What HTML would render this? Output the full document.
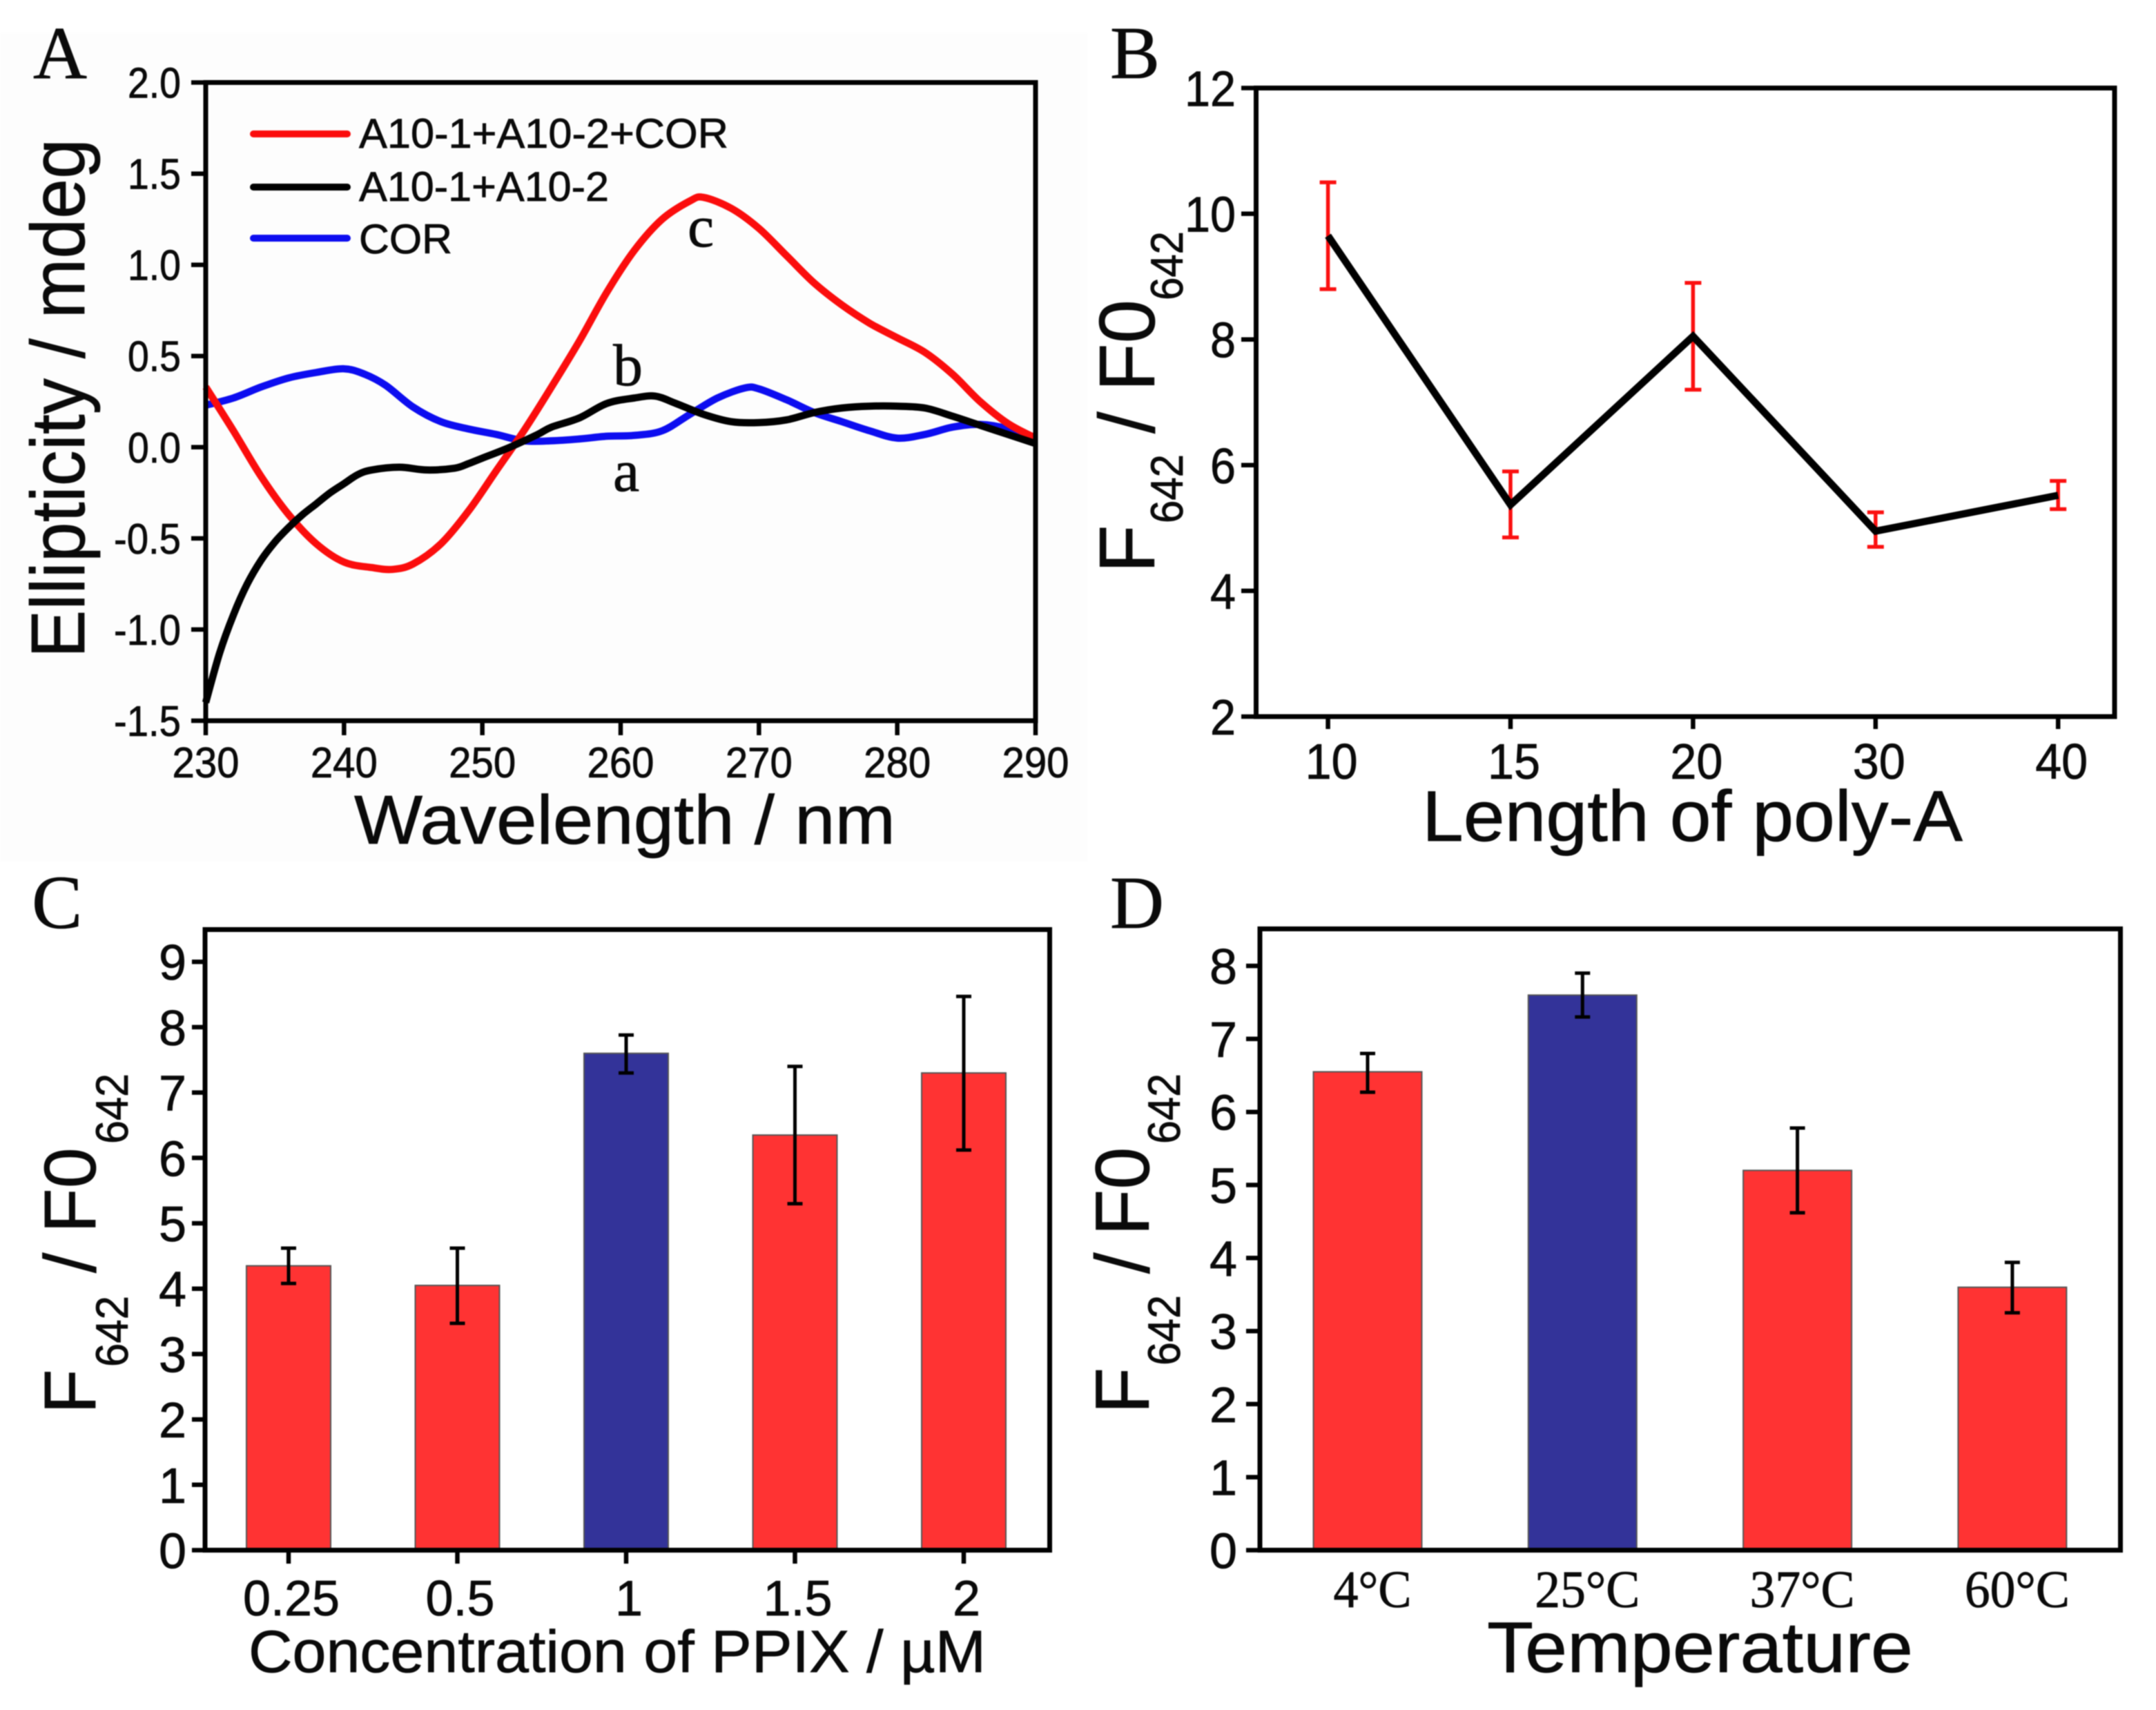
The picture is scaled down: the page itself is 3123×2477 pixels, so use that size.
<!DOCTYPE html>
<html lang="en">
<head>
<meta charset="utf-8">
<title>Four panel chart</title>
<style>
html,body{margin:0;padding:0;background:#fff;width:3123px;height:2477px;overflow:hidden}
svg{display:block;filter:blur(0.8px)}
text{font-family:"Liberation Sans",Arial,sans-serif;fill:#0a0a0a;stroke:#0a0a0a;stroke-width:0.8px}
.serif{font-family:"Liberation Serif","Times New Roman",serif}
</style>
</head>
<body>
<svg id="figure" xmlns="http://www.w3.org/2000/svg" width="3123" height="2477" viewBox="0 0 3123 2477">
  <rect x="0" y="0" width="3123" height="2477" fill="#ffffff"/>
  <rect x="0" y="48" width="1575" height="1200" fill="#fdfdfd"/>

  <g id="panelA">
    <text class="serif" x="48" y="113" font-size="108">A</text>
    <text transform="translate(122,953) rotate(-90)" font-size="110" textLength="752" lengthAdjust="spacingAndGlyphs">Ellipticity / mdeg</text>
    <text x="513" y="1222" font-size="100" textLength="784" lengthAdjust="spacingAndGlyphs">Wavelength / nm</text>
    <line x1="367" y1="194" x2="503" y2="194" stroke="#fb0d0d" stroke-width="10" stroke-linecap="round"/>
    <text x="520" y="214" font-size="60" textLength="535" lengthAdjust="spacingAndGlyphs">A10-1+A10-2+COR</text>
    <line x1="367" y1="271" x2="503" y2="271" stroke="#000" stroke-width="10" stroke-linecap="round"/>
    <text x="520" y="291" font-size="60" textLength="362" lengthAdjust="spacingAndGlyphs">A10-1+A10-2</text>
    <line x1="367" y1="345" x2="503" y2="345" stroke="#0d0df0" stroke-width="10" stroke-linecap="round"/>
    <text x="520" y="367" font-size="60" textLength="135" lengthAdjust="spacingAndGlyphs">COR</text>
    <text class="serif" x="996" y="357" font-size="86">c</text>
    <text class="serif" x="888" y="558" font-size="86">b</text>
    <text class="serif" x="888" y="711" font-size="86">a</text>
  </g>

  <g id="panelB">
    <text class="serif" x="1608" y="113" font-size="108">B</text>
    <g>
      <text transform="translate(1672,830) rotate(-90)" font-size="114">F</text>
      <text transform="translate(1713,758) rotate(-90)" font-size="66" textLength="100" lengthAdjust="spacingAndGlyphs">642</text>
      <text transform="translate(1672,628) rotate(-90)" font-size="114">/</text>
      <text transform="translate(1672,567) rotate(-90)" font-size="114">F0</text>
      <text transform="translate(1713,435) rotate(-90)" font-size="66" textLength="100" lengthAdjust="spacingAndGlyphs">642</text>
    </g>
    <text x="2060" y="1218" font-size="104" textLength="783" lengthAdjust="spacingAndGlyphs">Length of poly-A</text>
  </g>

  <g id="panelC">
    <text class="serif" x="46" y="1344" font-size="110">C</text>
    <g>
      <text transform="translate(138,2048) rotate(-90)" font-size="106">F</text>
      <text transform="translate(185,1980) rotate(-90)" font-size="66" textLength="103" lengthAdjust="spacingAndGlyphs">642</text>
      <text transform="translate(138,1844) rotate(-90)" font-size="106">/</text>
      <text transform="translate(138,1786) rotate(-90)" font-size="106">F0</text>
      <text transform="translate(185,1657) rotate(-90)" font-size="66" textLength="102" lengthAdjust="spacingAndGlyphs">642</text>
    </g>
    <text x="360" y="2422" font-size="86" textLength="1068" lengthAdjust="spacingAndGlyphs">Concentration of PPIX / µM</text>
  </g>

  <g id="panelD">
    <text class="serif" x="1608" y="1344" font-size="108">D</text>
    <g>
      <text transform="translate(1664,2048) rotate(-90)" font-size="110">F</text>
      <text transform="translate(1709,1978) rotate(-90)" font-size="66" textLength="102" lengthAdjust="spacingAndGlyphs">642</text>
      <text transform="translate(1664,1845) rotate(-90)" font-size="110">/</text>
      <text transform="translate(1664,1790) rotate(-90)" font-size="110">F0</text>
      <text transform="translate(1709,1657) rotate(-90)" font-size="66" textLength="102" lengthAdjust="spacingAndGlyphs">642</text>
    </g>
    <text x="2154" y="2422" font-size="104" textLength="617" lengthAdjust="spacingAndGlyphs">Temperature</text>
  </g>
</svg>
<script>
/* Panel A data */
const aXTicks = [230, 240, 250, 260, 270, 280, 290];
const aYTicks = ["-1.5", "-1.0", "-0.5", "0.0", "0.5", "1.0", "1.5", "2.0"];
const redNm = [230,232,234,236,238,240,242,243.5,245,247,249,251,253,255,257,259,261,263,265,266,268,270,272,274,276,278,280,282,284,286,288,290];
const redVal = [0.33,0.09,-0.16,-0.37,-0.53,-0.63,-0.66,-0.67,-0.64,-0.53,-0.35,-0.13,0.09,0.33,0.58,0.85,1.08,1.25,1.35,1.37,1.31,1.2,1.05,0.9,0.78,0.68,0.6,0.52,0.4,0.25,0.13,0.05];
const blackNm = [230,231,232,233,234,235,236,237,238,239,240,241,242,244,246,248,249,250,252,254,255,257,259,261,262.5,264,266,268,270,272,274,276,278,280,282,284,286,288,290];
const blackVal = [-1.4,-1.13,-0.92,-0.75,-0.62,-0.52,-0.44,-0.37,-0.31,-0.25,-0.2,-0.15,-0.125,-0.11,-0.125,-0.115,-0.09,-0.06,0,0.07,0.11,0.16,0.24,0.27,0.28,0.24,0.18,0.14,0.135,0.15,0.19,0.215,0.225,0.225,0.215,0.17,0.12,0.07,0.02];
const blueNm = [230,232,234,236,238,240,241.5,243,245,247,249,251,253,255,257,259,261,263,265,267,269,270,272,274,276,278,280,282,284,286,288,290];
const blueVal = [0.23,0.27,0.33,0.38,0.41,0.43,0.4,0.34,0.22,0.14,0.1,0.07,0.035,0.035,0.045,0.06,0.065,0.09,0.18,0.27,0.325,0.32,0.26,0.19,0.14,0.09,0.05,0.07,0.11,0.125,0.1,0.04];

/* Panel B data */
const bCategories = ["10", "15", "20", "30", "40"];
const bYTicks = [2, 4, 6, 8, 10, 12];
const bValues = [9.65, 5.37, 8.05, 4.95, 5.52];
const bErrHigh = [10.5, 5.9, 8.9, 5.25, 5.75];
const bErrLow = [8.8, 4.85, 7.2, 4.7, 5.3];

/* Panel C data */
const cCategories = ["0.25", "0.5", "1", "1.5", "2"];
const cYTicks = [0, 1, 2, 3, 4, 5, 6, 7, 8, 9];
const cValues = [4.35, 4.05, 7.6, 6.35, 7.3];
const cErrHigh = [4.62, 4.62, 7.88, 7.4, 8.47];
const cErrLow = [4.08, 3.47, 7.3, 5.3, 6.12];
const cHighlight = [false, false, true, false, false];

/* Panel D data */
const dCategories = ["4°C", "25°C", "37°C", "60°C"];
const dYTicks = [0, 1, 2, 3, 4, 5, 6, 7, 8];
const dValues = [6.55, 7.6, 5.2, 3.6];
const dErrHigh = [6.8, 7.9, 5.78, 3.94];
const dErrLow = [6.27, 7.3, 4.62, 3.25];
const dHighlight = [false, true, false, false];

const NS = "http://www.w3.org/2000/svg";
const RED = "#ff3333", BLUE = "#333399";

function shape(parent, tag) {
  const el = document.createElementNS(NS, tag);
  for (let i = 2; i < arguments.length; i += 2) el.setAttribute(arguments[i], arguments[i + 1]);
  parent.appendChild(el);
  return el;
}
function seg(parent, x1, y1, x2, y2, color, width, cap) {
  return shape(parent, "line", "x1", x1, "y1", y1, "x2", x2, "y2", y2, "stroke", color, "stroke-width", width, "stroke-linecap", cap || "butt");
}
function label(parent, str, x, y, size, anchor, length, cls) {
  const t = shape(parent, "text", "x", x, "y", y, "font-size", size, "text-anchor", anchor);
  if (length) { t.setAttribute("textLength", length); t.setAttribute("lengthAdjust", "spacingAndGlyphs"); }
  if (cls) t.setAttribute("class", cls);
  t.textContent = str;
  return t;
}
function smoothPath(pts) {
  let d = "M" + pts[0][0].toFixed(1) + " " + pts[0][1].toFixed(1);
  for (let i = 0; i < pts.length - 1; i++) {
    const p0 = pts[Math.max(i - 1, 0)], p1 = pts[i], p2 = pts[i + 1], p3 = pts[Math.min(i + 2, pts.length - 1)];
    d += " C" + (p1[0] + (p2[0] - p0[0]) / 6).toFixed(1) + " " + (p1[1] + (p2[1] - p0[1]) / 6).toFixed(1) +
         " " + (p2[0] - (p3[0] - p1[0]) / 6).toFixed(1) + " " + (p2[1] - (p3[1] - p1[1]) / 6).toFixed(1) +
         " " + p2[0].toFixed(1) + " " + p2[1].toFixed(1);
  }
  return d;
}
function frame(parent, L, T, R, B) {
  return shape(parent, "rect", "x", L, "y", T, "width", R - L, "height", B - T, "fill", "none", "stroke", "#000", "stroke-width", 7, "stroke-linejoin", "miter");
}
function tickWidth(str) {
  let w = 0;
  for (const ch of str) w += ch === "." || ch === "-" ? 20 : 40;
  return w;
}

/* ---------- Panel A ---------- */
(function () {
  const g = document.getElementById("panelA");
  const L = 298, R = 1500, T = 119.5, B = 1044;
  const xA = nm => L + (nm - 230) / 60 * (R - L);
  const yA = v => B - (v + 1.5) / 3.5 * (B - T);
  const curve = (nm, vals, color) => {
    const pts = nm.map((n, i) => [xA(n), yA(vals[i])]);
    return shape(g, "path", "d", smoothPath(pts), "fill", "none", "stroke", color, "stroke-width", 10.5, "stroke-linejoin", "round");
  };
  const cb = curve(blueNm, blueVal, "#0d0df0");
  
  
  const cr = curve(redNm, redVal, "#fb0d0d");
  
  
  const ck = curve(blackNm, blackVal, "#000000");
  
  
  aYTicks.forEach(t => {
    const y = yA(parseFloat(t));
    const m = seg(g, 277, y, L, y, "#000", 6.5);
    
    
    const w = t.length === 4 ? 97 : 77;
    const l = label(g, t, 262, y + 22, 62, "end", w);
    
    
  });
  aXTicks.forEach(t => {
    const x = xA(t);
    const m = seg(g, x, B, x, 1065, "#000", 6.5);
    
    
    const l = label(g, String(t), x, 1126, 62, "middle", 97);
    
    
  });
  const f = frame(g, L, T, R, B);
  
  
})();

/* ---------- Panel B ---------- */
(function () {
  const g = document.getElementById("panelB");
  const L = 1819.5, R = 3063, T = 127.5, B = 1038;
  const xB = i => 1923.6 + i * 264.4;
  const yB = v => B - (v - 2) / 10 * (B - T);
  bYTicks.forEach(t => {
    const y = yB(t);
    const m = seg(g, 1798, y, L, y, "#000", 6.5);
    
    
    const w = t >= 10 ? 74 : 37;
    const l = label(g, String(t), 1790, y + 26, 72, "end", w);
    
    
  });
  bCategories.forEach((c, i) => {
    const x = xB(i);
    const m = seg(g, x, B, x, 1056, "#000", 6.5);
    
    
    const l = label(g, c, x + 5, 1128, 72, "middle", 76);
    
    
    const e = shape(g, "g");
    
    
    seg(e, x, yB(bErrHigh[i]), x, yB(bErrLow[i]), "#fb1010", 5.5);
    seg(e, x - 12, yB(bErrHigh[i]), x + 12, yB(bErrHigh[i]), "#fb1010", 5.5);
    seg(e, x - 12, yB(bErrLow[i]), x + 12, yB(bErrLow[i]), "#fb1010", 5.5);
  });
  const pts = bValues.map((v, i) => xB(i).toFixed(1) + "," + yB(v).toFixed(1)).join(" ");
  const line = shape(g, "polyline", "points", pts, "fill", "none", "stroke", "#000", "stroke-width", 10.5, "stroke-linejoin", "miter");
  
  
  const f = frame(g, L, T, R, B);
  
  
})();

/* ---------- Bars (C and D) ---------- */
function barPanel(g, prefix, cfg, cats, vals, hi, lo, mark) {
  const y = v => cfg.B - v * cfg.unit;
  const x = i => cfg.x0 + i * cfg.step;
  cats.forEach((c, i) => {
    const r = shape(g, "rect", "x", x(i) - cfg.barW / 2, "y", y(vals[i]), "width", cfg.barW, "height", cfg.B - y(vals[i]), "fill", mark[i] ? BLUE : RED, "stroke", "#555", "stroke-width", 2);
    
    
    const e = shape(g, "g");
    
    
    seg(e, x(i), y(hi[i]), x(i), y(lo[i]), "#000", 5);
    seg(e, x(i) - 11, y(hi[i]), x(i) + 11, y(hi[i]), "#000", 5);
    seg(e, x(i) - 11, y(lo[i]), x(i) + 11, y(lo[i]), "#000", 5);
  });
}

/* ---------- Panel C ---------- */
(function () {
  const g = document.getElementById("panelC");
  const L = 297, R = 1520.5, T = 1346.5, B = 2245.5;
  const cfg = { B: B, unit: 94.7, x0: 418, step: 244.5, barW: 122 };
  barPanel(g, "panel-c", cfg, cCategories, cValues, cErrHigh, cErrLow, cHighlight);
  cYTicks.forEach(t => {
    const y = B - t * cfg.unit;
    const m = seg(g, 278, y, L, y, "#000", 6.5);
    
    
    const l = label(g, String(t), 270, y + 26, 72, "end", 40);
    
    
  });
  cCategories.forEach((c, i) => {
    const x = cfg.x0 + i * cfg.step;
    const m = seg(g, x, B, x, 2265, "#000", 6.5);
    
    
    const l = label(g, c, x + 4, 2340, 72, "middle", tickWidth(c));
    
    
  });
  const f = frame(g, L, T, R, B);
  
  
})();

/* ---------- Panel D ---------- */
(function () {
  const g = document.getElementById("panelD");
  const L = 1825, R = 3071.5, T = 1345.5, B = 2245.5;
  const cfg = { B: B, unit: 105.8, x0: 1981, step: 311.3, barW: 157 };
  barPanel(g, "panel-d", cfg, dCategories, dValues, dErrHigh, dErrLow, dHighlight);
  dYTicks.forEach(t => {
    const y = B - t * cfg.unit;
    const m = seg(g, 1805, y, L, y, "#000", 6.5);
    
    
    const l = label(g, String(t), 1792, y + 26, 72, "end", 40);
    
    
  });
  dCategories.forEach((c, i) => {
    const x = cfg.x0 + i * cfg.step;
    const l = label(g, c, x + 7, 2328, 76, "middle", c.length === 3 ? 113 : 152, "serif");
    
    
  });
  const f = frame(g, L, T, R, B);
  
  
})();
</script>
</body>
</html>
